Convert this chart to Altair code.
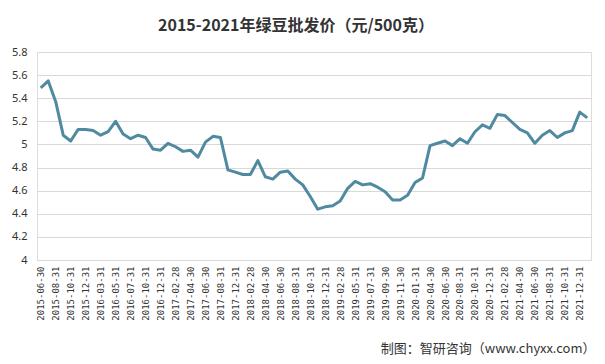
import altair as alt
import pandas as pd

dates = [
    "2015-06-30", "2015-07-31", "2015-08-31", "2015-09-30", "2015-10-31", "2015-11-30",
    "2015-12-31", "2016-01-31", "2016-03-31", "2016-04-30", "2016-05-31", "2016-06-30",
    "2016-07-31", "2016-08-31", "2016-10-31", "2016-11-30", "2016-12-31", "2017-01-31",
    "2017-02-28", "2017-03-31", "2017-04-30", "2017-05-31", "2017-06-30", "2017-07-31",
    "2017-08-31", "2017-10-31", "2017-12-31", "2018-01-31", "2018-02-28", "2018-03-31",
    "2018-04-30", "2018-05-31", "2018-06-30", "2018-07-31", "2018-08-31", "2018-09-30",
    "2018-10-31", "2018-11-30", "2018-12-31", "2019-01-31", "2019-02-28", "2019-03-31",
    "2019-05-31", "2019-06-30", "2019-07-31", "2019-08-31", "2019-09-30", "2019-10-31",
    "2019-11-30", "2019-12-31", "2020-01-31", "2020-03-31", "2020-04-30", "2020-05-31",
    "2020-06-30", "2020-07-31", "2020-08-31", "2020-09-30", "2020-10-31", "2020-11-30",
    "2020-12-31", "2021-01-31", "2021-02-28", "2021-03-31", "2021-04-30", "2021-05-31",
    "2021-06-30", "2021-07-31", "2021-08-31", "2021-09-30", "2021-10-31", "2021-11-30",
    "2021-12-31", "2022-01-31",
]

prices = [
    5.49, 5.55, 5.37, 5.08, 5.03, 5.13, 5.13, 5.12, 5.08, 5.11,
    5.20, 5.09, 5.05, 5.08, 5.06, 4.96, 4.95, 5.01, 4.98, 4.94,
    4.95, 4.89, 5.02, 5.07, 5.06, 4.78, 4.76, 4.74, 4.74, 4.86,
    4.72, 4.70, 4.76, 4.77, 4.70, 4.65, 4.55, 4.44, 4.46, 4.47,
    4.51, 4.62, 4.68, 4.65, 4.66, 4.63, 4.59, 4.52, 4.52, 4.56,
    4.67, 4.71, 4.99, 5.01, 5.03, 4.99, 5.05, 5.01, 5.11, 5.17,
    5.14, 5.26, 5.25, 5.19, 5.13, 5.10, 5.01, 5.08, 5.12, 5.06,
    5.10, 5.12, 5.28, 5.23,
]

shown_labels = dates[::2]
y_ticks = [4, 4.2, 4.4, 4.6, 4.8, 5, 5.2, 5.4, 5.6, 5.8]

title_text = "2015-2021年绿豆批发价（元/500克）"
source_text = "制图：智研咨询（www.chyxx.com）"

df = pd.DataFrame({"date": dates, "price": prices})

chart = (
    alt.Chart(df)
    .mark_line(color="#4f8aa1", strokeWidth=3, strokeJoin="round")
    .encode(
        x=alt.X(
            "date:O",
            sort=None,
            scale=alt.Scale(type="point", padding=0.5),
            axis=alt.Axis(
                values=shown_labels,
                labelAngle=270,
                labelFont="DejaVu Sans Mono",
                labelFontSize=9,
                labelColor="#333333",
                labelPadding=6,
                ticks=False,
                domain=False,
                grid=False,
                title=source_text,
                titleFont="Noto Sans CJK SC",
                titleFontSize=13,
                titleFontWeight="normal",
                titleColor="#333333",
                titleAngle=0,
                titleAlign="right",
                titleBaseline="middle",
                titleX=558,
                titleY=88,
            ),
        ),
        y=alt.Y(
            "price:Q",
            scale=alt.Scale(domain=[4, 5.8], nice=False, zero=False),
            axis=alt.Axis(
                values=y_ticks,
                format="~g",
                labelFont="Noto Sans",
                labelFontSize=11,
                labelColor="#333333",
                labelPadding=10,
                ticks=False,
                domain=False,
                grid=True,
                gridColor="#d9d9d9",
                gridWidth=1,
                title=None,
            ),
        ),
    )
    .properties(
        width=554,
        height=208,
        autosize=alt.AutoSizeParams(type="none"),
        padding={"left": 29, "top": 44, "right": 6, "bottom": 100},
        title=alt.TitleParams(
            text=title_text,
            font="Noto Sans CJK SC",
            fontSize=16,
            fontWeight="bold",
            color="#333333",
            anchor="middle",
            frame="group",
            dx=-18,
            offset=12,
        ),
    )
    .configure_view(stroke=None)
    .configure(background="white")
)

chart.save("out.html", embed_options={"renderer": "svg", "actions": False})
